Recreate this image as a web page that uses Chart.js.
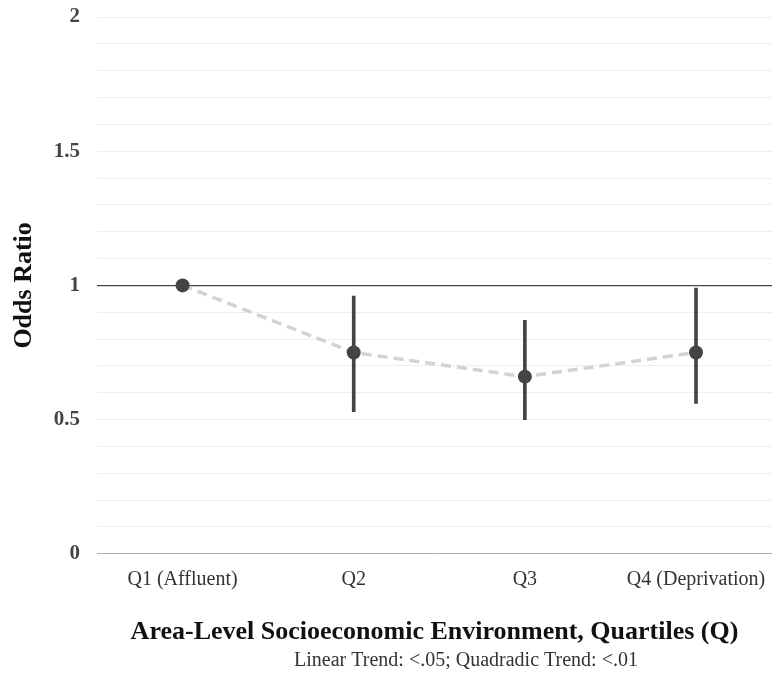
<!DOCTYPE html>
<html>
<head>
<meta charset="utf-8">
<script src="https://cdn.jsdelivr.net/npm/chart.js@4.4.1/dist/chart.umd.min.js"></script>
<style>
  body { margin: 0; background: #fff; }
  #wrap { width: 772px; height: 675px; }
</style>
</head>
<body>
<div id="wrap"><canvas id="chart"></canvas></div>
<script>
// data
const quartiles = ["Q1 (Affluent)", "Q2", "Q3", "Q4 (Deprivation)"];
const positions = [1, 2, 3, 4];
const oddsRatio = [1.0, 0.75, 0.66, 0.75];
const ciLower = [null, 0.53, 0.50, 0.56];
const ciUpper = [null, 0.96, 0.87, 0.99];
const yLabels = [0, 0.5, 1, 1.5, 2];
const trendNote = "Linear Trend: <.05; Quadradic Trend: <.01";

const serif = "'Liberation Serif', 'Times New Roman', serif";

const pointData = positions.map((x, i) => ({ x: x, y: oddsRatio[i] }));
const barData = positions
  .map((x, i) => ({ x: x, y: [ciLower[i], ciUpper[i]] }))
  .filter(d => d.y[0] !== null);

// trend note under the axis title
const notePlugin = {
  id: "note",
  afterDraw(chart) {
    const c = chart.ctx;
    c.save();
    c.font = "20px " + serif;
    c.fillStyle = "#333333";
    c.textAlign = "center";
    c.textBaseline = "middle";
    c.fillText(trendNote, 466, chart.height - 14);
    c.restore();
  },
};

const ctx = document.getElementById("chart").getContext("2d");
const chart = new Chart(ctx, {
  data: {
    datasets: [
      {
        type: "line",
        label: "Odds Ratio",
        data: pointData,
        borderColor: "#d3d3d3",
        borderWidth: 3.5,
        borderDash: [10, 6],
        pointRadius: 7,
        pointBackgroundColor: "#444444",
        pointBorderColor: "#444444",
        pointBorderWidth: 0,
        order: 0,
      },
      {
        type: "bar",
        label: "95% CI",
        data: barData,
        backgroundColor: "#444444",
        barThickness: 3,
        order: 1,
      },
    ],
  },
  options: {
    responsive: true,
    maintainAspectRatio: false,
    animation: false,
    layout: { autoPadding: false, padding: { top: 17, right: 0, bottom: 23, left: 0 } },
    plugins: {
      legend: { display: false },
      tooltip: { enabled: false },
    },
    scales: {
      x: {
        type: "linear",
        offset: false,
        min: 0.5,
        max: 4.444,
        afterBuildTicks: (scale) => {
          scale.ticks = positions.map(v => ({ value: v }));
        },
        afterFit: (scale) => {
          // let the last label hang over the edge like in the figure
          scale.paddingLeft = 0;
          scale.paddingRight = 0;
        },
        grid: { display: false, drawTicks: false, offset: false },
        border: { display: false },
        ticks: {
          callback: (v) => quartiles[positions.indexOf(v)] || "",
          color: "#333333",
          font: { family: serif, size: 20 },
          padding: 14,
          maxRotation: 0,
          autoSkip: false,
        },
        title: {
          display: true,
          text: "Area-Level Socioeconomic Environment, Quartiles (Q)",
          color: "#111111",
          font: { family: serif, size: 26, weight: "bold" },
          padding: { top: 11, bottom: 4 },
        },
      },
      y: {
        min: 0,
        max: 2,
        afterFit: (scale) => {
          scale.width = 97;
          scale.paddingTop = 0;
          scale.paddingBottom = 0;
        },
        ticks: {
          stepSize: 0.1,
          autoSkip: false,
          color: "#444444",
          font: { family: serif, size: 21, weight: "bold" },
          padding: 17,
          callback: (v) => {
            const hit = yLabels.find(l => Math.abs(l - v) < 1e-6);
            return hit === undefined ? "" : String(hit);
          },
        },
        grid: {
          drawTicks: false,
          lineWidth: (c) => (c.tick && Math.abs(c.tick.value - 1) < 1e-6 ? 1.3 : 1),
          color: (c) => {
            if (!c.tick) return "#eeeeee";
            if (Math.abs(c.tick.value - 1) < 1e-6) return "#444444";
            if (Math.abs(c.tick.value) < 1e-6) return "#b0b0b0";
            return "#eeeeee";
          },
        },
        border: { display: false },
        title: {
          display: true,
          text: "Odds Ratio",
          color: "#111111",
          font: { family: serif, size: 26, weight: "bold" },
          padding: { top: 9, bottom: 0 },
        },
      },
    },
  },
  plugins: [notePlugin],
});
</script>
</body>
</html>
